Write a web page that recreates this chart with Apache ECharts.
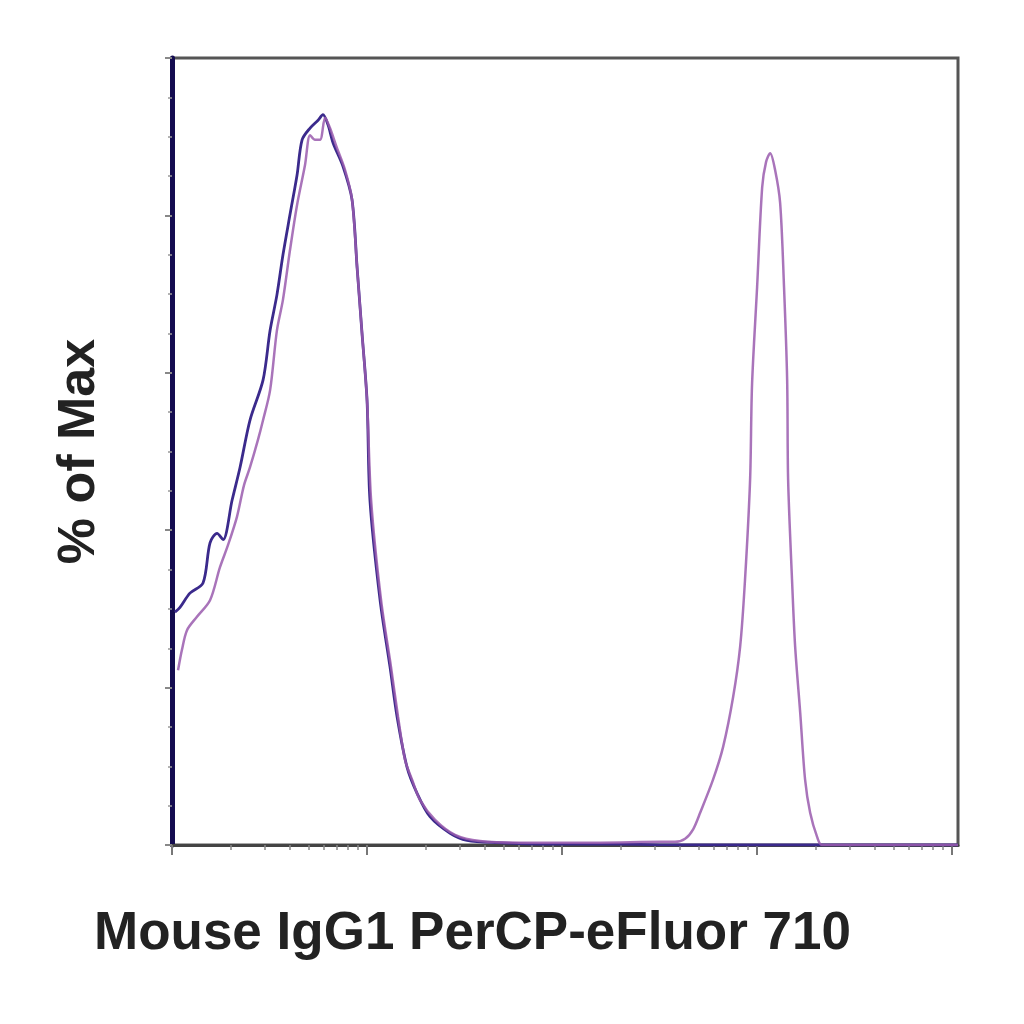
<!DOCTYPE html>
<html>
<head>
<meta charset="utf-8">
<script src="https://cdn.jsdelivr.net/npm/echarts@6/dist/echarts.min.js"></script>
<style>html,body{margin:0;padding:0;background:#fff}#c{width:1024px;height:1024px}</style>
</head>
<body>
<div id="c"></div>
<script>
// x in decades (log display units), y in % of Max
const isotypeX = [0.015,0.041,0.092,0.159,0.195,0.231,0.262,0.308,0.349,0.400,0.467,0.503,0.538,0.569,0.605,0.641,0.667,0.708,0.749,0.774,0.800,0.826,0.877,0.923,0.949,0.974,1.000,1.015,1.067,1.118,1.154,1.205,1.256,1.323,1.426,1.513,1.667,1.938,2.297,2.605,4.03];
const isotypeY = [29.6,30.2,32.0,33.3,38.4,39.6,38.8,43.8,48.0,54.0,59.1,65.4,69.9,75.0,80.1,85.1,89.6,91.1,92.1,92.8,91.5,89.2,86.2,82.0,73.4,65.1,56.5,43.8,31.1,22.6,16.3,9.9,6.6,3.6,1.5,0.6,0.3,0.1,0.1,0,0];
const stainedX = [0.031,0.051,0.077,0.128,0.195,0.246,0.287,0.333,0.369,0.400,0.441,0.467,0.503,0.538,0.569,0.605,0.641,0.682,0.708,0.733,0.759,0.785,0.810,0.841,0.887,0.923,0.949,0.974,1.000,1.021,1.072,1.123,1.159,1.195,1.231,1.272,1.349,1.451,1.579,1.785,2.195,2.503,2.579,2.631,2.672,2.708,2.774,2.826,2.877,2.913,2.938,2.964,2.974,3.000,3.026,3.046,3.067,3.092,3.118,3.138,3.154,3.159,3.179,3.195,3.221,3.246,3.272,3.308,3.333,4.03];
const stainedY = [22.2,24.8,27.3,29.0,31.1,35.3,38.1,41.7,45.7,48.0,51.5,54.0,57.8,65.4,69.3,75.6,81.3,86.4,90.2,89.6,89.6,92.4,91.1,88.9,85.8,82.0,73.4,65.1,56.5,43.8,31.1,22.6,16.3,10.8,8.3,5.7,3.2,1.3,0.5,0.3,0.3,0.4,0.4,0.8,2.0,4.1,8.3,12.5,18.8,25.2,33.7,46.4,58.5,70.9,83.6,86.8,87.9,85.8,81.6,70.9,59.1,46.4,33.7,25.2,16.8,8.3,4.1,1.0,0,0];
const xTitle = 'Mouse IgG1 PerCP-eFluor 710';
const yTitle = '% of Max';
const decades = [0,1,2,3,4];
const xMax = 4.03;

const minorX = [];
decades.forEach(d => { for (let k = 2; k <= 9; k++) { const v = d + Math.log10(k); if (v < xMax) minorX.push(+v.toFixed(4)); } });

const pair = (xs, ys) => xs.map((x, i) => [x, ys[i]]);

const chart = echarts.init(document.getElementById('c'), null, {renderer: 'canvas'});
chart.setOption({
  animation: false,
  backgroundColor: '#ffffff',
  grid: {left: 172, right: 66, top: 58, bottom: 179, show: true, borderColor: '#555', borderWidth: 3, backgroundColor: 'transparent'},
  graphic: [
    {type: 'text', left: 94, top: 908,
     style: {text: xTitle, font: 'bold 53px "Liberation Sans"', fill: '#222'}}
  ],
  xAxis: [
    {type: 'value', min: 0, max: xMax, interval: 1,
     axisLine: {show: true, lineStyle: {color: '#444', width: 3}},
     axisTick: {show: true, length: 10, lineStyle: {color: '#777', width: 2}, customValues: decades},
     axisLabel: {show: false}, splitLine: {show: false}},
    {type: 'value', min: 0, max: xMax, position: 'bottom',
     axisLine: {show: false},
     axisTick: {show: true, length: 5, lineStyle: {color: '#888', width: 1.5}, customValues: minorX},
     axisLabel: {show: false}, splitLine: {show: false}}
  ],
  yAxis: {type: 'value', min: 0, max: 100, interval: 20,
    axisLine: {show: true, lineStyle: {color: '#140c50', width: 5}},
    axisTick: {show: true, length: 7, lineStyle: {color: '#888', width: 2}},
    minorTick: {show: true, splitNumber: 4, length: 4, lineStyle: {color: '#999', width: 1.5}},
    axisLabel: {show: false}, splitLine: {show: false}, minorSplitLine: {show: false},
    name: yTitle, nameLocation: 'middle', nameGap: 66, nameRotate: 90,
    nameTextStyle: {fontFamily: 'Liberation Sans', fontWeight: 'bold', fontSize: 52, color: '#222'}},
  series: [
    {type: 'line', xAxisIndex: 0, data: pair(isotypeX, isotypeY), showSymbol: false, smooth: 0.3,
     lineStyle: {color: '#3b2a8c', width: 2.8}, z: 2},
    {type: 'line', xAxisIndex: 0, data: pair(stainedX, stainedY), showSymbol: false, smooth: 0.3,
     lineStyle: {color: '#9a5cae', width: 2.5, opacity: 0.85}, z: 3}
  ]
});
</script>
</body>
</html>
